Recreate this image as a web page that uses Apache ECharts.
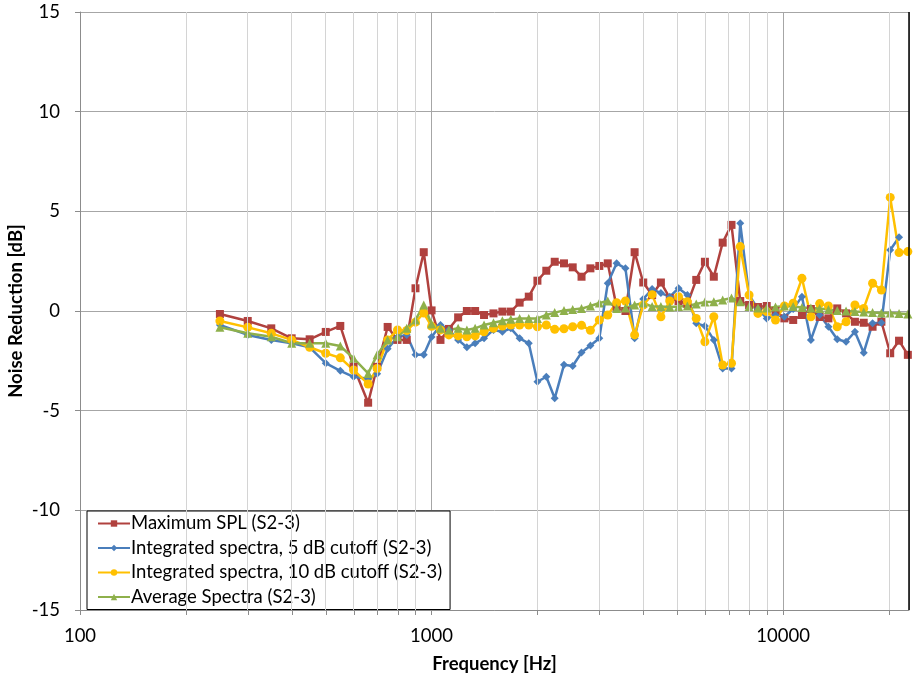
<!DOCTYPE html>
<html>
<head>
<meta charset="utf-8">
<script src="https://cdn.jsdelivr.net/npm/echarts@6/dist/echarts.min.js"></script>
<style>
  html, body { margin: 0; padding: 0; background: #fff; }
  #chart { width: 915px; height: 676px; }
</style>
</head>
<body>
<div id="chart"></div>
<script>
// frequencies [Hz], shared by all four series
var freqs = [250, 300, 350, 400, 450, 500, 550, 600, 660, 700, 750, 800, 850, 900, 950, 1000,
  1060, 1120, 1190, 1260, 1330, 1410, 1500, 1590, 1680, 1780, 1890, 2000,
  2120, 2240, 2380, 2520, 2670, 2830, 3000, 3170, 3360, 3560, 3780, 4000,
  4240, 4490, 4760, 5040, 5340, 5660, 5990, 6350, 6730, 7130, 7550, 8000,
  8480, 8980, 9510, 10080, 10680, 11310, 11990, 12700, 13450, 14250, 15100, 16000,
  16950, 17960, 19030, 20160, 21360, 22630]

var maxSpl = [-0.15, -0.5, -0.87, -1.37, -1.42, -1.05, -0.75, -2.8, -4.6, -2.8, -0.8, -1.45, -1.45, 1.14, 2.95, 0.03,
  -1.45, -0.9, -0.32, 0, 0, -0.2, -0.12, -0.03, -0.03, 0.42, 0.72, 1.52,
  2.02, 2.47, 2.39, 2.19, 1.72, 2.14, 2.26, 2.39, 0.2, 0.0, 2.95, 1.43,
  0.8, 1.43, 0.65, 0.5, 0.35, 1.56, 2.47, 1.72, 3.43, 4.32, 0.5, 0.3,
  0.2, 0.25, 0.0, -0.37, -0.45, -0.2, 0.1, -0.3, -0.37, 0.13, -0.12, -0.54,
  -0.59, -0.79, -0.54, -2.12, -1.49, -2.2]

var int5dB = [-0.7, -1.2, -1.45, -1.62, -1.82, -2.62, -3.0, -3.3, -3.4, -3.15, -1.9, -1.3, -1.2, -2.2, -2.2, -1.3,
  -0.7, -0.95, -1.45, -1.82, -1.62, -1.37, -0.95, -1.04, -0.87, -1.37, -1.62, -3.55,
  -3.3, -4.38, -2.7, -2.76, -2.08, -1.73, -1.37, 1.39, 2.39, 2.14, -1.37, 0.6,
  1.1, 0.9, 0.72, 1.14, 0.8, -0.62, -0.75, -1.45, -2.88, -2.88, 4.4, 0.8,
  0.1, -0.37, -0.2, -0.29, 0.1, 0.72, -1.45, -0.2, -0.79, -1.42, -1.54, -1.04,
  -2.09, -0.62, -0.59, 3.06, 3.7, null]

var int10dB = [-0.5, -0.82, -1.12, -1.45, -1.82, -2.12, -2.35, -2.96, -3.66, -2.88, -1.45, -0.95, -0.98, -0.56, -0.1, -0.77,
  -0.95, -1.2, -1.25, -1.29, -1.25, -1.04, -0.87, -0.75, -0.7, -0.7, -0.7, -0.79,
  -0.7, -0.92, -0.89, -0.79, -0.72, -0.97, -0.45, -0.2, 0.42, 0.5, -1.2, 0.3,
  0.82, -0.29, 0.5, 0.72, 0.47, -0.37, -1.54, -0.29, -2.71, -2.62, 3.23, 0.8,
  -0.12, -0.03, -0.45, 0.25, 0.39, 1.64, -0.29, 0.37, 0.25, -0.79, -0.54, 0.3,
  0.13, 1.39, 1.05, 5.7, 2.93, 2.98]

var avgSpectra = [-0.82, -1.12, -1.29, -1.62, -1.62, -1.62, -1.76, -2.37, -3.13, -2.2, -1.45, -1.29, -0.87, -0.45, 0.3, -0.65,
  -0.87, -0.95, -0.87, -0.95, -0.87, -0.7, -0.59, -0.49, -0.42, -0.37, -0.37, -0.37,
  -0.2, -0.08, 0.03, 0.08, 0.12, 0.25, 0.4, 0.5, 0.13, 0.15, 0.3, 0.4,
  0.22, 0.22, 0.2, 0.22, 0.25, 0.35, 0.45, 0.47, 0.55, 0.65, 0.47, 0.22,
  0.15, 0.15, 0.2, 0.25, 0.22, 0.17, 0.15, 0.12, 0.08, 0.03, 0, -0.03,
  -0.05, -0.08, -0.1, -0.1, -0.12, -0.15]

var xMin = 100
var xMax = 22800
var minorFreqs = [200, 300, 400, 500, 600, 700, 800, 900,
  2000, 3000, 4000, 5000, 6000, 7000, 8000, 9000, 20000]

function pairs(vals) {
  return freqs.map(function (f, i) { return [f, vals[i]] })
}

var font = 'Lato, "Liberation Sans", sans-serif'

function lineSeries(name, vals, color, symbol, size) {
  return {
    name: name,
    type: 'line',
    data: pairs(vals),
    symbol: symbol,
    symbolSize: size,
    connectNulls: false,
    lineStyle: { color: color, width: 2.5 },
    itemStyle: { color: color },
    emphasis: { disabled: true },
    animation: false
  }
}

var chart = echarts.init(document.getElementById('chart'))
chart.setOption({
  backgroundColor: '#fff',
  animation: false,
  textStyle: { fontFamily: font },
  grid: { left: 80, right: 6, top: 12, bottom: 66, outerBoundsMode: 'none', containLabel: false },
  legend: {
    orient: 'vertical',
    left: 87,
    top: 511,
    itemGap: 5.5,
    itemWidth: 32,
    itemHeight: 8,
    padding: [3, 8, 3, 10],
    backgroundColor: '#fff',
    borderColor: '#000',
    borderWidth: 1,
    borderRadius: 0,
    textStyle: { fontSize: 18.5, color: '#000', fontFamily: font, padding: [0, 0, 0, -4] },
    data: ['Maximum SPL (S2-3)', 'Integrated spectra, 5 dB cutoff (S2-3)',
      'Integrated spectra, 10 dB cutoff (S2-3)', 'Average Spectra (S2-3)']
  },
  xAxis: {
    type: 'log',
    logBase: 10,
    min: xMin,
    max: xMax,
    name: 'Frequency [Hz]',
    nameLocation: 'middle',
    nameGap: 45,
    nameMoveOverlap: false,
    nameTextStyle: { fontSize: 18.5, fontWeight: 'bold', color: '#000', fontFamily: font },
    axisLine: { onZero: false, lineStyle: { color: '#8c8c8c', width: 1 } },
    axisTick: { show: true, inside: false, length: 5, lineStyle: { color: '#8c8c8c' } },
    axisLabel: {
      fontSize: 18.5, color: '#000', margin: 17, showMaxLabel: false,
      formatter: function (v) {
        var l = Math.log10(v)
        return Math.abs(l - Math.round(l)) < 1e-6 ? String(Math.round(v)) : ''
      }
    },
    splitLine: { show: true, lineStyle: { color: '#a6a6a6', width: 1 } }
  },
  yAxis: {
    type: 'value',
    min: -15,
    max: 15,
    interval: 5,
    name: 'Noise Reduction [dB]',
    nameLocation: 'middle',
    nameGap: 54,
    nameMoveOverlap: false,
    nameTextStyle: { fontSize: 18.5, fontWeight: 'bold', color: '#000', fontFamily: font },
    axisLine: { show: true, lineStyle: { color: '#8c8c8c' } },
    axisTick: { show: true, length: 5, lineStyle: { color: '#8c8c8c' } },
    axisLabel: { fontSize: 18.5, color: '#000', margin: 20 },
    splitLine: { show: true, lineStyle: { color: '#a6a6a6', width: 1 } }
  },
  series: [
    {
      // minor log grid lines and right border
      type: 'line',
      data: [],
      silent: true,
      markLine: {
        silent: true,
        symbol: ['none', 'none'],
        label: { show: false },
        animation: false,
        data: minorFreqs.map(function (f) {
          return { xAxis: f, lineStyle: { color: '#d4d4d4', width: 1, type: 'solid' } }
        }).concat([{ xAxis: xMax, lineStyle: { color: '#000', width: 1.5, type: 'solid' } }])
      }
    },
    lineSeries('Maximum SPL (S2-3)', maxSpl, '#B0413E', 'rect', 8),
    lineSeries('Integrated spectra, 5 dB cutoff (S2-3)', int5dB, '#4A7EBB', 'diamond', 8),
    lineSeries('Integrated spectra, 10 dB cutoff (S2-3)', int10dB, '#FFC000', 'circle', 9),
    lineSeries('Average Spectra (S2-3)', avgSpectra, '#8EB04B', 'triangle', 9)
  ]
})

// minor tick marks under the x axis, placed through the axis scale
var ticks = []
minorFreqs.forEach(function (f) {
  var p = chart.convertToPixel({ gridIndex: 0 }, [f, -15])
  if (!p || isNaN(p[0]) || isNaN(p[1])) return
  var x = Math.round(p[0]) + 0.5
  ticks.push({
    type: 'line', silent: true, z: 10,
    shape: { x1: x, y1: p[1], x2: x, y2: p[1] + 5 },
    style: { stroke: '#8c8c8c', lineWidth: 1 }
  })
})
chart.setOption({ graphic: ticks })
</script>
</body>
</html>
